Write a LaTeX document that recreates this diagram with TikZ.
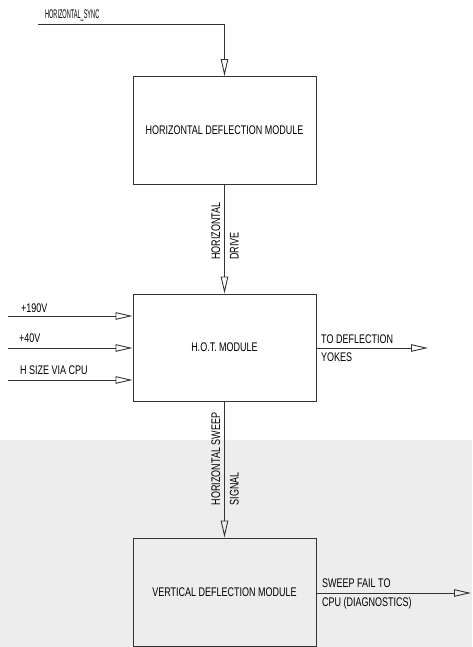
\documentclass[tikz,border=0pt]{standalone}
\usepackage{fontspec}
\setmainfont{Liberation Sans}
\newfontfamily\cadfont[FakeStretch=0.72]{Liberation Sans}
\usetikzlibrary{positioning,arrows.meta,calc}

\begin{document}
\begin{tikzpicture}[x=1pt, y=1pt,
  every node/.style={font=\cadfont\fontsize{12.5}{13}\selectfont},
  module/.style={draw=black!80, line width=0.9pt, minimum width=183pt, minimum height=108pt, inner sep=0pt},
  sig/.style={draw=black!80, line width=0.9pt, -{Triangle[open, length=17pt, width=7.5pt]}},
  lbl/.style={font=\cadfont\fontsize{12.5}{18.5}\selectfont, align=left, inner sep=0pt}]
  \useasboundingbox (0,0) rectangle (472,647);

  % stippled lower part
  \fill[gray!14] (0,0) rectangle (472,207);

  \node[module] (hdm) at (224.5,516.5) {HORIZONTAL DEFLECTION MODULE};
  \node[module, minimum height=107pt] (hot) at (224.5,299.5) {H.O.T. MODULE};
  \node[module] (vdm) at (224.5,55) {VERTICAL DEFLECTION MODULE};

  % sync in
  \coordinate (sync) at (38,623);
  \draw[sig] (sync) -| (hdm.north);
  \node[anchor=south west, inner sep=0pt, xscale=0.62, transform shape] (synclbl) at (45,626) {HORIZONTAL\_SYNC};

  % drive
  \draw[sig] (hdm.south) -- (hot.north);
  \node[lbl, rotate=90] (drivelbl) at (225,416) {HORIZONTAL\\DRIVE};

  % supplies
  \coordinate (in1) at (8,331);
  \coordinate (in2) at (8,299);
  \coordinate (in3) at (8,267);
  \draw[sig] (in1) -- (hot.west |- in1);
  \draw[sig] (in2) -- (hot.west |- in2);
  \draw[sig] (in3) -- (hot.west |- in3);
  \node[anchor=south west, inner sep=0pt] (l1) at (21,334) {+190V};
  \node[anchor=south west, inner sep=0pt] (l2) at (19,304) {+40V};
  \node[anchor=south west, inner sep=0pt] (l3) at (20,272) {H SIZE VIA CPU};

  % to yokes
  \coordinate (yoke) at (428,299);
  \draw[sig] (hot.east |- yoke) -- (yoke);
  \node[lbl, anchor=west] (yokelbl) at (321,299) {TO DEFLECTION\\YOKES};

  % sweep
  \draw[sig] (hot.south) -- (vdm.north);
  \node[lbl, rotate=90] (sweeplbl) at (225,188) {HORIZONTAL SWEEP\\SIGNAL};

  % sweep fail
  \coordinate (fail) at (471,54);
  \draw[sig] (vdm.east |- fail) -- (fail);
  \node[lbl, anchor=west] (faillbl) at (322,53) {SWEEP FAIL TO\\CPU (DIAGNOSTICS)};
\end{tikzpicture}
\end{document}
